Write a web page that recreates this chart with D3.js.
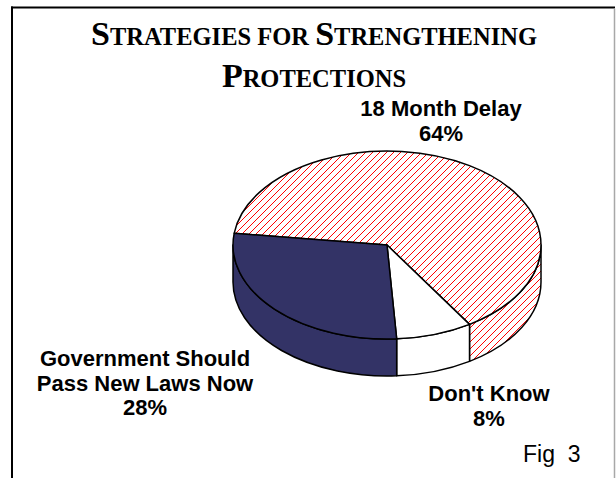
<!DOCTYPE html>
<html>
<head>
<meta charset="utf-8">
<script src="https://cdn.jsdelivr.net/npm/d3@7"></script>
<style>
  html, body { margin: 0; padding: 0; background: #fff; }
  svg { display: block; }
</style>
</head>
<body>
<svg id="chart" width="616" height="478"></svg>
<script>
// ---------- data ----------
const titleLines = ["Strategies for Strengthening", "Protections"];
const categories = ["18 Month Delay", "Don't Know", "Government Should Pass New Laws Now"];
const values = [64, 8, 28];
const labelLines = [["18 Month Delay", "64%"], ["Don't Know", "8%"], ["Government Should", "Pass New Laws Now", "28%"]];
const figLabel = "Fig\u00a0\u00a03";

// ---------- layout ----------
const W = 616, H = 478;
const cx = 387, cy = 245, rx = 154, ry = 94, depth = 37;
const startDeg = 187.2; // screen angle (clockwise from +x) where first slice starts
const fills = ["hatch", "#ffffff", "#333366"];
const hatchStep = 7;

const svg = d3.select("#chart");
const defs = svg.append("defs");

// frame
svg.append("line").attr("x1", 11).attr("x2", 615).attr("y1", 7.5).attr("y2", 7.5)
  .style("stroke", "#000").style("stroke-width", 2);
svg.append("line").attr("x1", 12).attr("x2", 12).attr("y1", 6.5).attr("y2", H)
  .style("stroke", "#000").style("stroke-width", 2);
svg.append("line").attr("x1", 614.5).attr("x2", 614.5).attr("y1", 8.5).attr("y2", H)
  .style("stroke", "#a8a8a8").style("stroke-width", 1.5);

// pie
const pie = d3.pie().sort(null)
  .startAngle((startDeg + 90) * Math.PI / 180)
  .endAngle((startDeg + 90) * Math.PI / 180 + 2 * Math.PI);
const arcs = pie(values);

const toScreen = a => a - Math.PI / 2;
const pt = (t, dy = 0) => [cx + rx * Math.cos(t), cy + ry * Math.sin(t) + dy];

function wallPath(s, e) {
  const p0 = pt(s), p1 = pt(e), p2 = pt(e, depth), p3 = pt(s, depth);
  const large = (e - s) > Math.PI ? 1 : 0;
  return `M${p0} A${rx},${ry} 0 ${large} 1 ${p1} L${p2} A${rx},${ry} 0 ${large} 0 ${p3} Z`;
}
function topPath(s, e) {
  const p0 = pt(s), p1 = pt(e);
  const large = (e - s) > Math.PI ? 1 : 0;
  return `M${cx},${cy} L${p0} A${rx},${ry} 0 ${large} 1 ${p1} Z`;
}

let clipId = 0;
function face(g, d, fill) {
  if (fill === "hatch") {
    g.append("path").attr("d", d).style("fill", "#fff").style("stroke", "none");
    const id = "clip" + (clipId++);
    defs.append("clipPath").attr("id", id).append("path").attr("d", d);
    const hg = g.append("g").attr("clip-path", `url(#${id})`);
    const starts = d3.range(-H, W + hatchStep, hatchStep);
    hg.selectAll("line").data(starts).join("line")
      .attr("x1", s => s).attr("y1", H)
      .attr("x2", s => s + H).attr("y2", 0)
      .style("stroke", "#ff0000").style("stroke-width", 1);
  } else {
    g.append("path").attr("d", d).style("fill", fill).style("stroke", "none");
  }
  g.append("path").attr("d", d).style("fill", "none")
    .style("stroke", "#000").style("stroke-width", 1.5).style("stroke-linejoin", "round");
}

const gWalls = svg.append("g");
const gTops = svg.append("g");

arcs.forEach((d, i) => {
  const s = toScreen(d.startAngle), e = toScreen(d.endAngle);
  for (let k = -1; k <= 3; k++) {
    const lo = Math.max(s, k * 2 * Math.PI), hi = Math.min(e, k * 2 * Math.PI + Math.PI);
    if (hi - lo > 1e-6) face(gWalls, wallPath(lo, hi), fills[i]);
  }
  face(gTops, topPath(s, e), fills[i]);
});

// title (small caps)
const titleBaselines = [44.5, 87];
titleLines.forEach((line, li) => {
  const t = svg.append("text")
    .attr("x", 314).attr("y", titleBaselines[li])
    .attr("text-anchor", "middle")
    .style("font-family", "'Liberation Serif', 'Times New Roman', serif")
    .style("font-weight", "bold");
  line.split("").forEach(ch => {
    const big = ch !== " " && ch === ch.toUpperCase();
    t.append("tspan").style("font-size", (big ? 34 : 24.5) + "px").text(ch.toUpperCase());
  });
});

// labels: centred blocks (x, middle baseline)
const labelPos = [
  { x: 441, yMid: 128.5 },
  { x: 489, yMid: 413.5 },
  { x: 145, yMid: 390.5 }
];
const lineStep = 24.8;
labelLines.forEach((lines, i) => {
  const y0 = labelPos[i].yMid - (lines.length - 1) * lineStep / 2;
  lines.forEach((txt, j) => {
    svg.append("text")
      .attr("x", labelPos[i].x).attr("y", y0 + j * lineStep)
      .attr("text-anchor", "middle")
      .style("font-family", "'Liberation Sans', Arial, sans-serif")
      .style("font-weight", "bold").style("font-size", "22px")
      .style("fill", "#000")
      .text(txt);
  });
});

svg.append("text").attr("x", 523).attr("y", 462)
  .style("font-family", "'Liberation Sans', Arial, sans-serif")
  .style("font-size", "23px").text(figLabel);
</script>
</body>
</html>
